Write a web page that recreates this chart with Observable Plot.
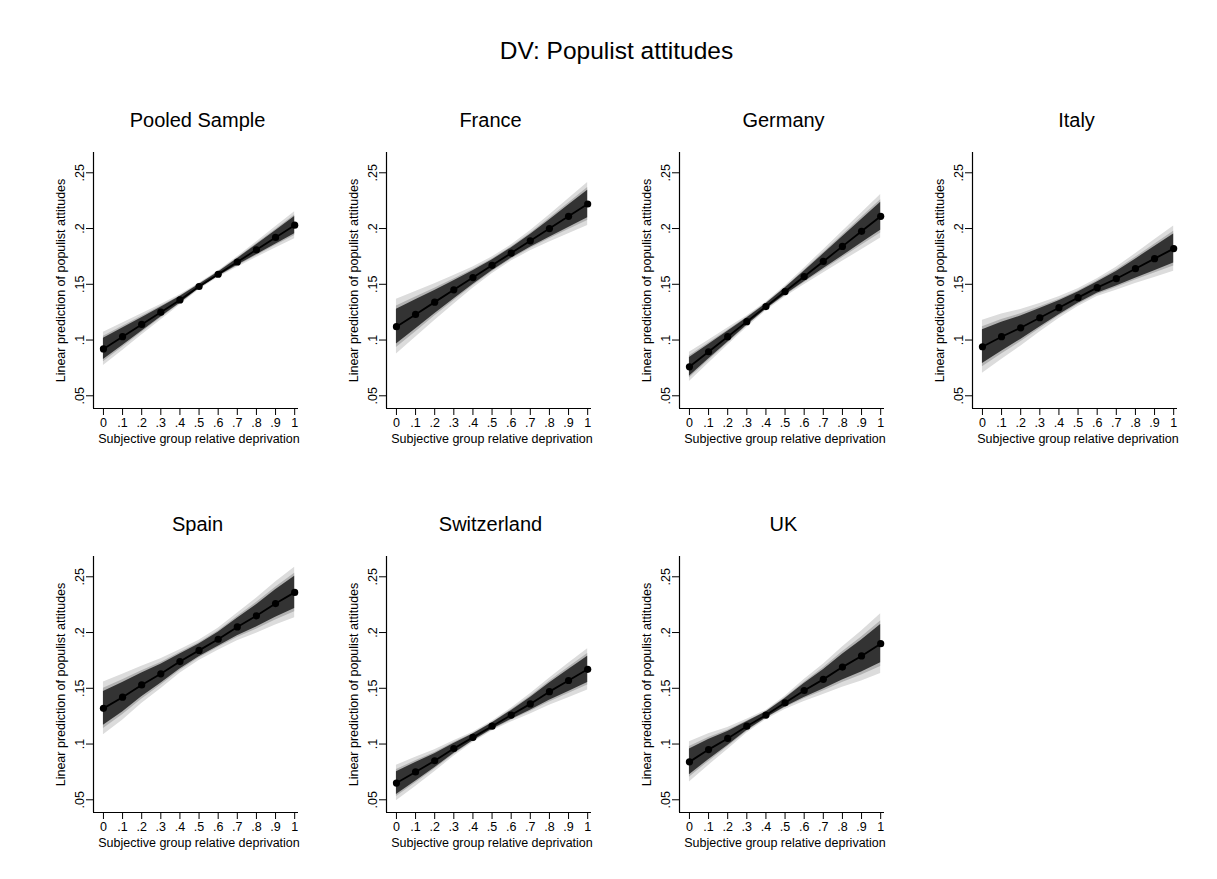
<!DOCTYPE html>
<html>
<head>
<meta charset="utf-8">
<script src="https://cdn.jsdelivr.net/npm/d3@7"></script>
<script src="https://cdn.jsdelivr.net/npm/@observablehq/plot@0.6"></script>
<style>
  html, body { margin: 0; padding: 0; background: #fff; }
  #root { position: relative; width: 1217px; height: 879px; background: #fff; font-family: "Liberation Sans", Arial, sans-serif; color: #000; }
  .main-title { position: absolute; left: 8px; width: 1217px; top: 36px; text-align: center; font-size: 24.5px; line-height: 30px; }
  .panel-title { position: absolute; width: 293px; text-align: center; font-size: 20px; line-height: 24px; }
  .panel { position: absolute; }
</style>
</head>
<body>
<div id="root">
  <div class="main-title">DV: Populist attitudes</div>
</div>
<script>
// ---- data ----
const xValues = [0, 0.1, 0.2, 0.3, 0.4, 0.5, 0.6, 0.7, 0.8, 0.9, 1];
const xTickLabels = ["0", ".1", ".2", ".3", ".4", ".5", ".6", ".7", ".8", ".9", "1"];
const yTicks = [0.05, 0.1, 0.15, 0.2, 0.25];
const yTickLabels = [".05", ".1", ".15", ".2", ".25"];

const panelNames = ["Pooled Sample", "France", "Germany", "Italy", "Spain", "Switzerland", "UK"];

// linear predictions
const predPooled      = [0.092, 0.103, 0.114, 0.125, 0.136, 0.148, 0.159, 0.170, 0.181, 0.192, 0.203];
const predFrance      = [0.112, 0.123, 0.134, 0.145, 0.156, 0.167, 0.178, 0.189, 0.200, 0.211, 0.222];
const predGermany     = [0.076, 0.0895, 0.103, 0.1165, 0.130, 0.1435, 0.157, 0.1705, 0.184, 0.1975, 0.211];
const predItaly       = [0.094, 0.103, 0.111, 0.120, 0.129, 0.138, 0.147, 0.155, 0.164, 0.173, 0.182];
const predSpain       = [0.132, 0.142, 0.153, 0.163, 0.174, 0.184, 0.194, 0.205, 0.215, 0.226, 0.236];
const predSwitzerland = [0.065, 0.075, 0.085, 0.096, 0.106, 0.116, 0.126, 0.136, 0.147, 0.157, 0.167];
const predUK          = [0.084, 0.095, 0.105, 0.116, 0.126, 0.137, 0.148, 0.158, 0.169, 0.179, 0.190];

// standard errors
const sePooled      = [0.0058, 0.0048, 0.0037, 0.0027, 0.0018, 0.0011, 0.0011, 0.0018, 0.0027, 0.0037, 0.0047];
const seFrance      = [0.0095, 0.0080, 0.0064, 0.0050, 0.0037, 0.0029, 0.0028, 0.0035, 0.0047, 0.0061, 0.0075];
const seGermany     = [0.0051, 0.0040, 0.0030, 0.0020, 0.0015, 0.0019, 0.0029, 0.0040, 0.0052, 0.0064, 0.0076];
const seItaly       = [0.0092, 0.0079, 0.0064, 0.0050, 0.0038, 0.0031, 0.0031, 0.0040, 0.0052, 0.0066, 0.0079];
const seSpain       = [0.0092, 0.0080, 0.0065, 0.0052, 0.0041, 0.0035, 0.0038, 0.0048, 0.0061, 0.0075, 0.0088];
const seSwitzerland = [0.0062, 0.0051, 0.0038, 0.0027, 0.0018, 0.0017, 0.0024, 0.0035, 0.0047, 0.0060, 0.0072];
const seUK          = [0.0070, 0.0055, 0.0038, 0.0024, 0.0016, 0.0023, 0.0038, 0.0053, 0.0070, 0.0087, 0.0104];

// confidence levels drawn (widest first)
const ciLevels = [99, 95, 90];
const ciZ = [2.576, 1.960, 1.645];
const bandColors = ["#dcdcdc", "#b2b2b2", "#333333"];

const xLabel = "Subjective group relative deprivation";
const yLabel = "Linear prediction of populist attitudes";

// ---- layout ----
const preds = [predPooled, predFrance, predGermany, predItaly, predSpain, predSwitzerland, predUK];
const ses = [sePooled, seFrance, seGermany, seItaly, seSpain, seSwitzerland, seUK];

const root = document.getElementById("root");
const W = 293, H = 313;
const mL = 53, mR = 35, mT = 12, mB = 45;
const colX0 = 40, colStep = 293;
const rowY0 = 140, rowStep = 403.5;

panelNames.forEach((name, i) => {
  const col = i % 4, row = Math.floor(i / 4);
  const left = colX0 + col * colStep;
  const top = rowY0 + row * rowStep;

  const data = xValues.map((x, j) => ({x, pred: preds[i][j], se: ses[i][j]}));

  const bands = ciZ.map((z, k) =>
    Plot.areaY(data, {
      x: "x",
      y1: d => d.pred - z * d.se,
      y2: d => d.pred + z * d.se,
      fill: bandColors[k]
    })
  );

  const chart = Plot.plot({
    width: W,
    height: H,
    marginLeft: mL,
    marginRight: mR,
    marginTop: mT,
    marginBottom: mB,
    style: {fontFamily: "'Liberation Sans', Arial, sans-serif", fontSize: "12.5px", color: "#000", background: "#fff"},
    x: {domain: [-0.052, 1.02]},
    y: {domain: [0.0386, 0.2682]},
    marks: [
      ...bands,
      Plot.line(data, {x: "x", y: "pred", stroke: "#000", strokeWidth: 1.8}),
      Plot.dot(data, {x: "x", y: "pred", r: 3.6, fill: "#000", stroke: "none"}),
      Plot.ruleY([0.0386], {stroke: "#000", strokeWidth: 1.2}),
      Plot.ruleX([-0.052], {stroke: "#000", strokeWidth: 1.2}),
      Plot.axisX({
        ticks: xValues,
        tickFormat: (d) => xTickLabels[xValues.indexOf(d)],
        tickSize: 7,
        tickPadding: 3,
        label: null
      }),
      Plot.axisY({
        ticks: yTicks,
        tickFormat: (d) => yTickLabels[yTicks.indexOf(d)],
        tickSize: 7,
        tickRotate: -90,
        label: null
      }),
      Plot.text([xLabel], {frameAnchor: "bottom", dy: 34, dx: 3, fontSize: 12.5, fill: "#000", textAnchor: "middle"}),
      Plot.text([yLabel], {frameAnchor: "left", dx: -33, rotate: -90, fontSize: 12.5, fill: "#000", textAnchor: "middle"})
    ]
  });
  chart.classList.add("panel");
  chart.style.left = left + "px";
  chart.style.top = top + "px";
  root.appendChild(chart);

  const t = document.createElement("div");
  t.className = "panel-title";
  t.textContent = name;
  t.style.left = (left + mL + (W - mL - mR) / 2 - W / 2 + 2) + "px";
  t.style.top = (top - 32) + "px";
  root.appendChild(t);
});
</script>
</body>
</html>
